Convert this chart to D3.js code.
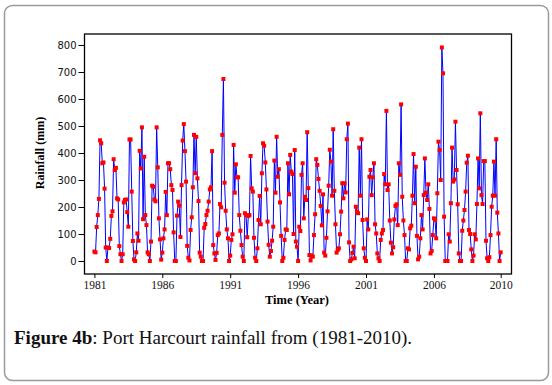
<!DOCTYPE html>
<html>
<head>
<meta charset="utf-8">
<script src="https://cdn.jsdelivr.net/npm/d3@7"></script>
<style>
  body { margin: 0; background: #fff; }
  svg { display: block; }
</style>
</head>
<body>
<div id="chart"></div>
<script>
// Monthly rainfall (mm), Port Harcourt, one row per year
const YEARS = d3.range(1981, 2011);
const R1981 = [35, 32, 126, 170, 230, 447, 436, 362, 365, 268, 50, 0];
const R1982 = [50, 48, 82, 167, 184, 377, 337, 345, 232, 228, 55, 25];
const R1983 = [0, 25, 217, 226, 228, 181, 127, 450, 450, 257, 74, 6];
const R1984 = [0, 32, 102, 75, 408, 343, 495, 155, 386, 170, 133, 32];
const R1985 = [25, 0, 72, 279, 275, 228, 221, 495, 347, 158, 80, 5];
const R1986 = [31, 84, 117, 256, 170, 362, 362, 340, 281, 263, 106, 0];
const R1987 = [0, 168, 220, 205, 89, 281, 446, 507, 407, 294, 56, 12];
const R1988 = [2, 115, 162, 273, 467, 325, 460, 306, 222, 31, 16, 0];
const R1989 = [0, 123, 137, 170, 186, 220, 265, 273, 407, 59, 28, 4];
const R1990 = [30, 96, 102, 211, 199, 467, 674, 290, 186, 117, 84, 0];
const R1991 = [20, 78, 99, 430, 253, 358, 310, 310, 170, 112, 59, 16];
const R1992 = [0, 177, 170, 88, 167, 170, 389, 269, 257, 86, 12, 0];
const R1993 = [47, 152, 241, 136, 325, 436, 427, 365, 265, 146, 60, 16];
const R1994 = [37, 75, 127, 372, 253, 460, 312, 340, 217, 93, 0, 12];
const R1995 = [78, 117, 115, 362, 247, 393, 331, 322, 100, 411, 72, 53];
const R1996 = [0, 127, 111, 319, 362, 158, 238, 226, 477, 270, 22, 2];
const R1997 = [20, 16, 96, 173, 377, 356, 304, 260, 204, 132, 247, 31];
const R1998 = [20, 86, 184, 279, 412, 368, 242, 488, 260, 136, 31, 41];
const R1999 = [47, 99, 183, 288, 232, 288, 254, 451, 509, 69, 0, 6];
const R2000 = [30, 53, 10, 201, 183, 177, 420, 242, 451, 152, 47, 12];
const R2001 = [0, 154, 117, 312, 337, 244, 310, 362, 136, 102, 28, 10];
const R2002 = [0, 78, 102, 115, 322, 284, 556, 263, 284, 150, 68, 28];
const R2003 = [51, 154, 204, 210, 133, 362, 319, 580, 238, 150, 96, 0];
const R2004 = [0, 47, 43, 121, 131, 242, 396, 214, 349, 93, 6, 16];
const R2005 = [84, 170, 117, 244, 380, 253, 226, 284, 193, 28, 37, 96];
const R2006 = [158, 152, 84, 251, 442, 411, 300, 791, 695, 164, 0, 0];
const R2007 = [0, 99, 72, 214, 420, 294, 302, 516, 337, 210, 28, 0];
const R2008 = [0, 112, 150, 189, 257, 364, 390, 115, 100, 43, 0, 20];
const R2009 = [99, 80, 211, 380, 269, 547, 244, 211, 370, 370, 75, 10];
const R2010 = [0, 14, 96, 201, 242, 368, 242, 451, 179, 102, 0, 32];

const RAINFALL = [].concat(
  R1981, R1982, R1983, R1984, R1985, R1986, R1987, R1988, R1989, R1990,
  R1991, R1992, R1993, R1994, R1995, R1996, R1997, R1998, R1999, R2000,
  R2001, R2002, R2003, R2004, R2005, R2006, R2007, R2008, R2009, R2010
);

// x ticks sit on month index (1 = Jan 1981, 360 = Dec 2010)
const X_TICK_INDEX = [1, 61, 121, 181, 241, 301, 360];
const X_TICK_LABELS = ['1981', '1986', '1991', '1996', '2001', '2006', '2010'];
const Y_TICKS = [0, 100, 200, 300, 400, 500, 600, 700, 800];

const W = 552, H = 385;
const frame = { left: 84.5, right: 511.5, top: 34, bottom: 274 };

const svg = d3.select('#chart').append('svg').attr('width', W).attr('height', H);

// outer rounded border
svg.append('rect')
  .attr('x', 4.5).attr('y', 5.5).attr('width', 544).attr('height', 375)
  .attr('rx', 8).attr('fill', '#fff').attr('stroke', '#9a9a9a').attr('stroke-width', 1.5);

const x = d3.scaleLinear().domain([1, 360]).range([94.4, 500.7]);
const y = d3.scaleLinear().domain([0, 800]).range([261, 45]);

const points = RAINFALL.map((v, i) => ({ i: i + 1, v }));

// plot frame
svg.append('rect')
  .attr('x', frame.left).attr('y', frame.top)
  .attr('width', frame.right - frame.left).attr('height', frame.bottom - frame.top)
  .attr('fill', 'none').attr('stroke', '#000').attr('stroke-width', 1.3);

// axes
const yAxis = svg.append('g')
  .attr('transform', `translate(${frame.left},0)`)
  .call(d3.axisLeft(y).tickValues(Y_TICKS).tickSize(6).tickPadding(2));
yAxis.select('.domain').remove();
yAxis.selectAll('text')
  .attr('font-family', '"DejaVu Sans", sans-serif').attr('font-size', 10).attr('fill', '#111');

const xAxis = svg.append('g')
  .attr('transform', `translate(0,${frame.bottom})`)
  .call(d3.axisBottom(x).tickValues(X_TICK_INDEX)
    .tickFormat((d, k) => X_TICK_LABELS[k]).tickSize(4).tickPadding(3));
xAxis.select('.domain').remove();
xAxis.selectAll('text')
  .attr('font-family', '"Liberation Serif", serif').attr('font-size', 11.5).attr('fill', '#111');

// series line
svg.append('path')
  .datum(points)
  .attr('fill', 'none')
  .attr('stroke', '#0000ff')
  .attr('stroke-width', 1)
  .attr('d', d3.line().x(d => x(d.i)).y(d => y(d.v)));

// markers
svg.append('g').selectAll('path')
  .data(points)
  .join('path')
  .attr('transform', d => `translate(${x(d.i)},${y(d.v)})`)
  .attr('d', d3.symbol(d3.symbolSquare, 16))
  .attr('fill', '#ff0000');

// axis titles
svg.append('text')
  .attr('transform', 'translate(44,153) rotate(-90)')
  .attr('text-anchor', 'middle')
  .attr('font-family', '"Liberation Serif", serif').attr('font-weight', 'bold').attr('font-size', 12)
  .text('Rainfall (mm)');

svg.append('text')
  .attr('x', 297).attr('y', 304)
  .attr('text-anchor', 'middle')
  .attr('font-family', '"Liberation Serif", serif').attr('font-weight', 'bold').attr('font-size', 12.5)
  .text('Time (Year)');

// caption
const cap = svg.append('text')
  .attr('x', 14).attr('y', 344)
  .attr('font-family', '"Liberation Serif", serif').attr('font-size', 19).attr('fill', '#111');
cap.append('tspan').attr('font-weight', 'bold').text('Figure 4b');
cap.append('tspan').text(': Port Harcourt rainfall from (1981-2010).');
</script>
</body>
</html>
